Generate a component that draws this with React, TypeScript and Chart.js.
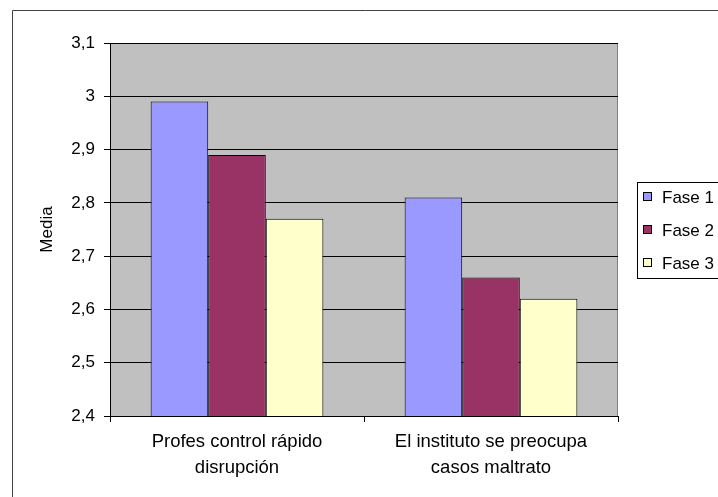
import React, { useEffect, useRef } from "react";
import { Chart, registerables } from "chart.js";

Chart.register(...registerables);

const categories: string[][] = [
  ["Profes control rápido", "disrupción"],
  ["El instituto se preocupa", "casos maltrato"],
];
const seriesNames = ["Fase 1", "Fase 2", "Fase 3"];
const fase1 = [2.99, 2.81];
const fase2 = [2.89, 2.66];
const fase3 = [2.77, 2.62];
const seriesColors = ["#9999FF", "#993366", "#FFFFCC"];
const yMin = 2.4;
const yMax = 3.1;
const yStep = 0.1;
const yTitle = "Media";

const FONT = "'Liberation Sans', Arial, sans-serif";

const framePlugin = {
  id: "frame",
  beforeDraw(chart: any) {
    const { ctx, chartArea, width, height } = chart;
    ctx.save();
    ctx.fillStyle = "#ffffff";
    ctx.fillRect(0, 0, width, height);
    ctx.strokeStyle = "#404040";
    ctx.lineWidth = 1;
    ctx.beginPath();
    ctx.moveTo(12.5, height + 5);
    ctx.lineTo(12.5, 10.5);
    ctx.lineTo(width + 5, 10.5);
    ctx.stroke();
    ctx.fillStyle = "#C0C0C0";
    ctx.fillRect(chartArea.left, chartArea.top, chartArea.right - chartArea.left, chartArea.bottom - chartArea.top);
    ctx.strokeStyle = "#808080";
    ctx.beginPath();
    ctx.moveTo(chartArea.left, chartArea.top + 0.5);
    ctx.lineTo(chartArea.right - 0.5, chartArea.top + 0.5);
    ctx.lineTo(chartArea.right - 0.5, chartArea.bottom);
    ctx.stroke();
    ctx.restore();
  },
  afterDraw(chart: any) {
    const { ctx } = chart;
    ctx.save();
    ctx.strokeStyle = "#000000";
    ctx.lineWidth = 1;
    ctx.fillStyle = "#ffffff";
    ctx.fillRect(637.5, 182.5, 100, 96);
    ctx.strokeRect(637.5, 182.5, 100, 96);
    const rowY = [197, 230, 263];
    chart.data.datasets.forEach((ds: any, i: number) => {
      const y = rowY[i];
      ctx.fillStyle = ds.backgroundColor;
      ctx.fillRect(643.5, y - 4.5, 8, 8);
      ctx.strokeStyle = "#000000";
      ctx.strokeRect(643.5, y - 4.5, 8, 8);
      ctx.fillStyle = "#000000";
      ctx.font = `17px ${FONT}`;
      ctx.textBaseline = "middle";
      ctx.textAlign = "left";
      ctx.fillText(ds.label, 662, y + 1);
    });
    ctx.restore();
  },
};

export default function App() {
  const ref = useRef<HTMLCanvasElement | null>(null);
  useEffect(() => {
    if (!ref.current) return;
    const dataSets = [fase1, fase2, fase3];
    const chart = new Chart(ref.current, {
      type: "bar",
      data: {
        labels: categories,
        datasets: dataSets.map((d, i) => ({
          label: seriesNames[i],
          data: d,
          backgroundColor: seriesColors[i],
          borderColor: "#000000",
          borderWidth: 1,
          borderSkipped: false,
          barPercentage: 1,
          categoryPercentage: 0.68,
        })),
      },
      options: {
        responsive: false,
        animation: false,
        devicePixelRatio: 1,
        layout: { padding: { left: 0, top: 43, right: 100, bottom: 0 } },
        plugins: { legend: { display: false }, tooltip: { enabled: false } },
        scales: {
          x: {
            grid: {
              display: true,
              drawOnChartArea: false,
              offset: true,
              color: "#000000",
              tickLength: 6,
            },
            border: { color: "#000000", width: 1 },
            ticks: {
              color: "#000000",
              font: { family: FONT, size: 18.5, lineHeight: 1.4 },
              padding: 7,
              maxRotation: 0,
              autoSkip: false,
            },
            afterFit: (s: any) => {
              s.height = 81;
            },
          },
          y: {
            min: yMin,
            max: yMax,
            grid: { color: "#000000", tickLength: 6 },
            border: { color: "#000000", width: 1 },
            ticks: {
              stepSize: yStep,
              color: "#000000",
              padding: 9,
              font: { family: FONT, size: 17 },
              callback: (v: any) => String(Number(Number(v).toFixed(1))).replace(".", ","),
            },
            title: {
              display: true,
              text: yTitle,
              color: "#000000",
              font: { family: FONT, size: 17 },
              padding: { top: 37, bottom: 0 },
            },
            afterFit: (s: any) => {
              s.width = 110;
            },
          },
        },
      },
      plugins: [framePlugin],
    });
    return () => chart.destroy();
  }, []);
  return (
    <div style={{ position: "fixed", left: 0, top: 0, width: 718, height: 497, background: "#fff" }}>
      <canvas ref={ref} width={718} height={497} style={{ display: "block" }} />
    </div>
  );
}
